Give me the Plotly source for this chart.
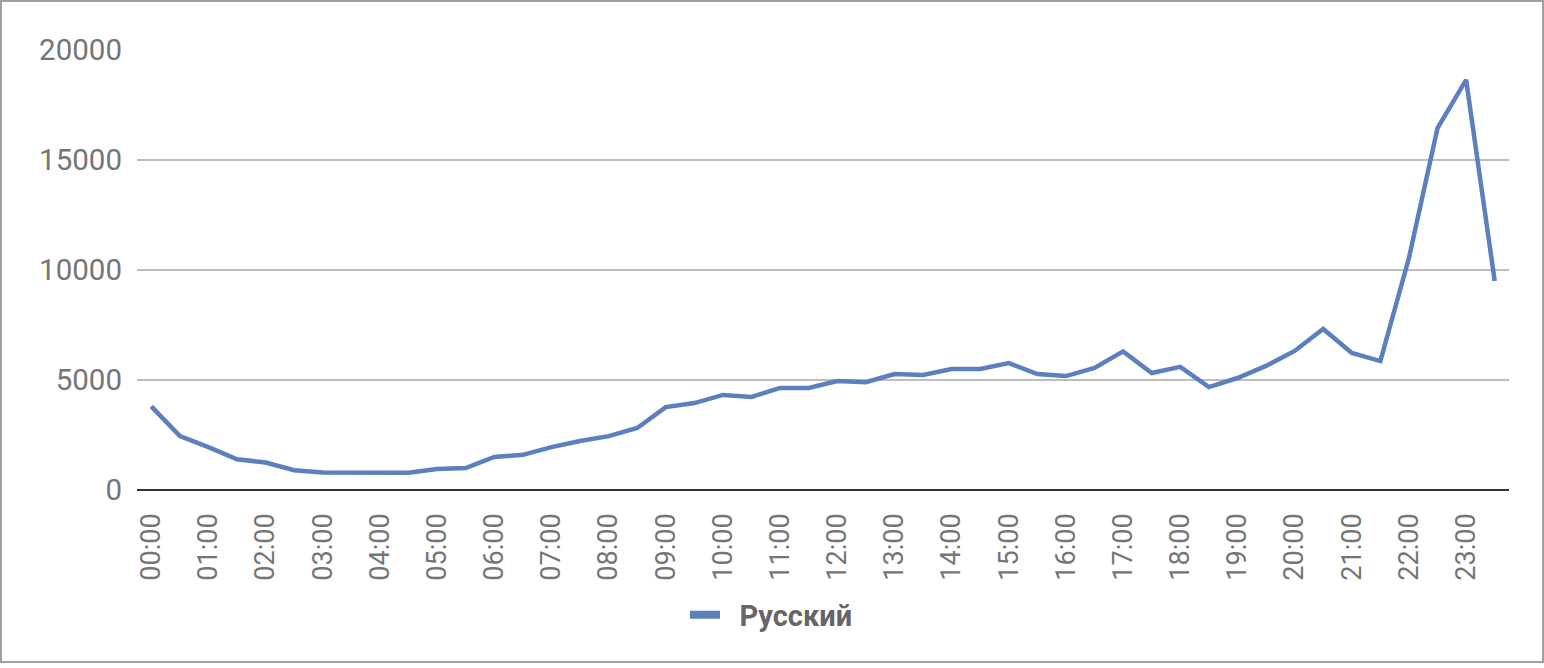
import plotly.graph_objects as go

times = [f"{h:02d}:{m:02d}" for h in range(24) for m in (0, 30)]
hour_labels = [f"{h:02d}:00" for h in range(24)]
series_name = "Русский"
values = [3800, 2450, 1950, 1400, 1250, 900, 800, 780, 800, 780,
          950, 1000, 1500, 1600, 1950, 2230, 2450, 2820, 3770, 3950,
          4320, 4230, 4640, 4640, 4950, 4900, 5270, 5230, 5500, 5500,
          5770, 5270, 5180, 5550, 6300, 5320, 5600, 4680, 5090, 5640,
          6320, 7320, 6230, 5860, 10550, 16450, 18640, 9500]
y_ticks = [0, 5000, 10000, 15000, 20000]

W, H = 1544, 668
ml, mr, mt, mb = 137, 35, 50, 178
PW, PH = W - ml - mr, H - mt - mb
color = "#5b80bd"

fig = go.Figure()
fig.add_trace(go.Scatter(x=times, y=values, mode="lines", name=series_name,
                         line=dict(color=color, width=4.5), showlegend=False))
# legend entry (thicker swatch like the original)
fig.add_trace(go.Scatter(x=[None], y=[None], mode="lines",
                         name="\u00a0\u00a0" + series_name,
                         line=dict(color=color, width=8), showlegend=True))

fig.update_layout(
    width=W, height=H,
    margin=dict(l=ml, r=mr, t=mt, b=mb, pad=0, autoexpand=False),
    paper_bgcolor="white", plot_bgcolor="white",
    font=dict(family="Roboto", color="#757575"),
    showlegend=True,
    legend=dict(orientation="h", x=(685 - ml) / PW, xanchor="left",
                y=(490 - 615) / PH, yanchor="middle",
                font=dict(size=29, color="#666666", family="Roboto", weight="bold")),
    xaxis=dict(type="category", categoryorder="array", categoryarray=times,
               range=[-0.5, len(times) - 0.5],
               tickmode="array", tickvals=hour_labels, ticktext=hour_labels,
               tickangle=-90, tickfont=dict(size=27, color="#757575"),
               showgrid=False, showline=False, zeroline=False, ticks="",
               ticklabelstandoff=17, automargin=False),
    yaxis=dict(range=[0, 20000], tickvals=y_ticks, tickformat="d",
               tickfont=dict(size=29.5, color="#757575"),
               showgrid=True, gridcolor="#bdbdbd", gridwidth=2,
               zeroline=True, zerolinecolor="#333333", zerolinewidth=2,
               showline=False, ticks="", ticklabelstandoff=14, automargin=False),
)

# outer frame of the chart
fig.add_shape(type="rect", xref="paper", yref="paper",
              x0=-(ml - 1) / PW, x1=1 + (mr - 1) / PW,
              y0=-(mb - 6) / PH, y1=1 + (mt - 1) / PH,
              line=dict(color="#a0a0a0", width=2), layer="below")

fig.write_html("out.html", config={"displayModeBar": False},
               post_script="document.body.style.margin='0';document.body.style.overflow='hidden';")
